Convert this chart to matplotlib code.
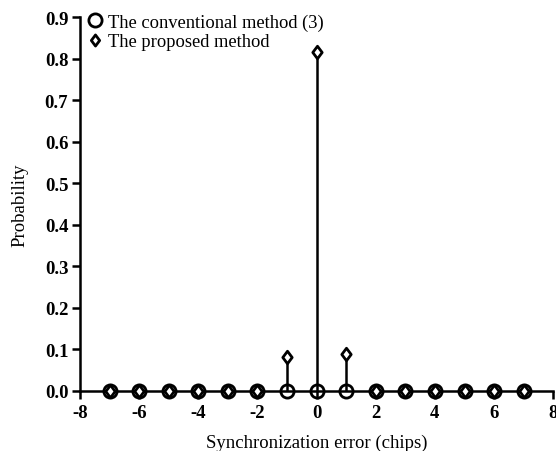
import numpy as np
import matplotlib.pyplot as plt
from matplotlib.lines import Line2D
from matplotlib.path import Path

# synchronization error (chips)
erro = np.arange(-7, 8)
# probability, conventional method (3)
p_conv = [0, 0, 0, 0, 0, 0, 0, 0, 0, 0, 0, 0, 0, 0, 0]
# probability, proposed method
p_prop = [0, 0, 0, 0, 0, 0, 0.082, 0.815, 0.088, 0, 0, 0, 0, 0, 0]

plt.rcParams['font.family'] = ['Liberation Serif', 'DejaVu Serif']
plt.rcParams['axes.unicode_minus'] = False

# losango um pouco mais largo que o 'd' do matplotlib
losango = Path([(0, 1), (0.75, 0), (0, -1), (-0.75, 0), (0, 1)],
               [Path.MOVETO, Path.LINETO, Path.LINETO, Path.LINETO, Path.CLOSEPOLY])

fig = plt.figure(figsize=(5.56, 4.52), dpi=100)
ax = fig.add_axes([0.144, 0.133, 0.851, 0.827])

ax.vlines(erro, 0, p_prop, color='black', lw=1.8, zorder=2)
ax.plot(erro, p_conv, 'o', ms=9.5, mfc='none', mec='black', mew=2.0,
        clip_on=False, zorder=4, label='The conventional method (3)')
ax.plot(erro, p_prop, ls='none', marker=losango, ms=9, mfc='white', mec='black', mew=2.0,
        clip_on=False, zorder=3, label='The proposed method')

ax.set_xlim(-8, 8)
ax.set_ylim(0, 0.9)
ax.set_xticks(np.arange(-8, 9, 2))
ax.set_yticks(np.arange(0, 0.91, 0.1))
ax.set_yticklabels([f'{v:.1f}' for v in np.arange(0, 0.91, 0.1)])

for s in ['top', 'right']:
    ax.spines[s].set_visible(False)
for s in ['left', 'bottom']:
    ax.spines[s].set_linewidth(1.8)

ax.tick_params(direction='out', length=5.5, width=1.8, labelsize=13.5, pad=3)
ax.tick_params(axis='x', pad=4)
for lb in ax.get_xticklabels() + ax.get_yticklabels():
    lb.set_fontweight('bold')

ax.set_xlabel('Synchronization error (chips)', fontsize=13.5, labelpad=9)
ax.set_ylabel('Probability', fontsize=13.5, labelpad=12)

h = [Line2D([], [], ls='none', marker='o', ms=9.5, mfc='none', mec='black', mew=2.0),
     Line2D([], [], ls='none', marker=losango, ms=8, mfc='white', mec='black', mew=2.0)]
ax.legend(h, ['The conventional method (3)', 'The proposed method'],
          loc='upper left', frameon=False, fontsize=13.3, handletextpad=0.2,
          handlelength=1.0, borderaxespad=0.0, borderpad=0.0, labelspacing=0.15,
          bbox_to_anchor=(0.012, 1.01))

fig.savefig('out.png', dpi=100)
